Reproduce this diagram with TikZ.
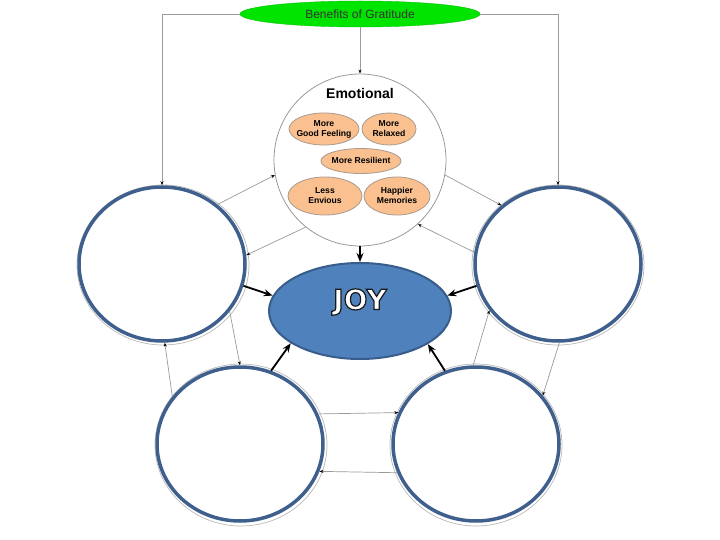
\documentclass[tikz,border=0pt]{standalone}
\usepackage{fontspec}
\setmainfont{Liberation Sans}
\newfontfamily\joyfont{DejaVu Sans}
\usetikzlibrary{shapes.geometric,arrows.meta}
\definecolor{ringblue}{HTML}{3F5F8C}
\definecolor{joyfill}{HTML}{4F81BD}
\definecolor{joyedge}{HTML}{385D8A}
\definecolor{topgreen}{HTML}{00E400}
\definecolor{peach}{HTML}{FAC08F}
\definecolor{peachedge}{HTML}{A89A8C}
\definecolor{linegray}{HTML}{9A9A9A}
\newcommand{\ctr}[1]{\makebox[0pt]{\raisebox{-2.3pt}[0pt][0pt]{\begin{tabular}{@{}c@{}}#1\end{tabular}}}}
\newcommand{\outlinedtext}[1]{\textcolor{white}{\special{pdf:literal direct 2 Tr 1.2 w 0.1 0.1 0.1 RG}#1\special{pdf:literal direct 0 Tr}}}
\tikzset{
  bigcircle/.style={ellipse, draw=ringblue, line width=3.5pt, fill=white, minimum width=166pt, minimum height=154pt, inner sep=0pt},
  outerring/.style={draw=linegray!70, line width=0.7pt},
  orange/.style={ellipse, draw=peachedge, line width=0.8pt, fill=peach, inner sep=0pt, font=\bfseries\fontsize{8.6}{10}\selectfont},
  thin/.style={draw=linegray, line width=0.7pt, -{Stealth[length=4pt,width=3pt,black]}},
  thick/.style={draw=black, line width=1.8pt, -{Stealth[length=9pt,width=7pt]}}
}
\begin{document}
\begin{tikzpicture}[x=1pt,y=-1pt]
\useasboundingbox (0,0) rectangle (720,540);
% rings (outer gray)
\draw[outerring] (163,265) ellipse [x radius=86, y radius=80];
\draw[outerring] (558,265) ellipse [x radius=86, y radius=80];
\draw[outerring] (241,445) ellipse [x radius=86, y radius=81];
\draw[outerring] (476,445) ellipse [x radius=86, y radius=81];
% nodes
\node[ellipse, draw=topgreen!85!black, line width=0.4pt, fill=topgreen, minimum width=240pt, minimum height=26pt, inner sep=0pt, text=black!80, font=\fontsize{12}{14}\selectfont] (top) at (360,14) {\makebox[0pt]{Benefits of Gratitude}};
\node[circle, draw=linegray, line width=0.8pt, fill=white, minimum size=172pt, inner sep=0pt] (emo) at (360,160) {};
\node[font=\bfseries\fontsize{14}{16}\selectfont] (emotitle) at (360,93) {Emotional};
\node[orange, minimum width=70pt, minimum height=32pt] (e1) at (324,129) {\ctr{More\\Good Feeling}};
\node[orange, minimum width=54pt, minimum height=32pt] (e2) at (389,129) {\ctr{More\\Relaxed}};
\node[orange, minimum width=80pt, minimum height=25pt] (e3) at (361,161) {\ctr{More Resilient}};
\node[orange, minimum width=74pt, minimum height=38pt] (e4) at (325,196) {\ctr{Less\\Envious}};
\node[orange, minimum width=66pt, minimum height=38pt] (e5) at (397,196) {\ctr{Happier\\Memories}};
\node[ellipse, draw=joyedge, line width=2pt, fill=joyfill, minimum width=182pt, minimum height=96pt, inner sep=0pt] (joy) at (360,311) {};
\node[font=\joyfont\bfseries\fontsize{28}{32}\selectfont] (joytext) at (360,302) {\outlinedtext{JOY}};
\node[bigcircle] (L) at (162,264) {};
\node[bigcircle] (R) at (558,264) {};
\node[bigcircle] (BL) at (240,444) {};
\node[bigcircle] (BR) at (476,444) {};
% top connectors
\draw[thin] (top.west) -| (L.north);
\draw[thin] (top.east) -| (R.north);
\draw[thin] (top.south) -- (emo.north);
% emotional <-> side circles
\draw[thin] (L.47) -- (emo.190);
\draw[thin] (emo.231) -- (L.6);
\draw[thin] (emo.350) -- (R.134);
\draw[thin] (R.172) -- (emo.312);
% side <-> bottom
\draw[thin] (BL.145) -- (L.-88);
\draw[thin] (L.-35) -- (BL.90);
\draw[thin] (BR.92) -- (R.214);
\draw[thin] (R.-89) -- (BR.36);
% bottom pair
\draw[thin] (BL.21) -- (BR.158);
\draw[thin] (BR.200) -- (BL.-19);
% thick arrows into JOY
\draw[thick] (emo.south) -- (joy.north);
\draw[thick] (L.-15) -- (joy.170);
\draw[thick] (R.195) -- (joy.10);
\draw[thick] (BL.67) -- (joy.205);
\draw[thick] (BR.113) -- (joy.334);
\end{tikzpicture}
\end{document}
